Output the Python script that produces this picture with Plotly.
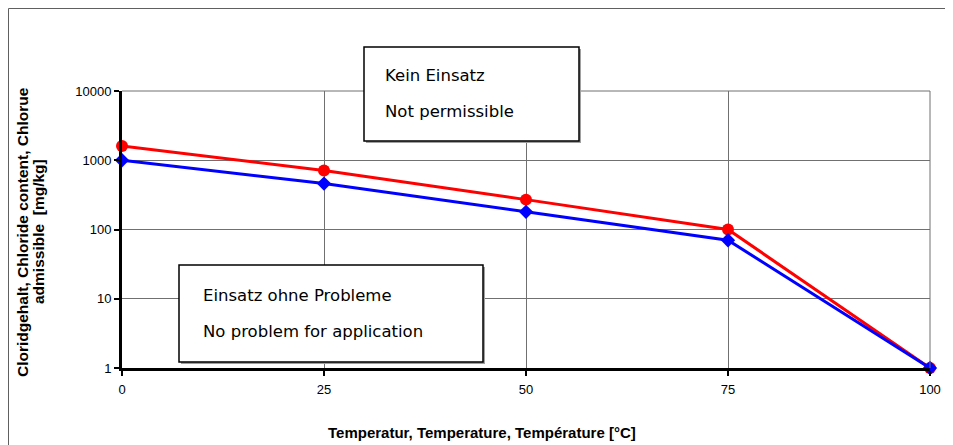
import plotly.graph_objects as go

temperature = [0, 25, 50, 75, 100]
chloride_upper = [1600, 710, 270, 100, 1]   # red
chloride_lower = [1000, 460, 180, 70, 1]    # blue

x_ticks = [0, 25, 50, 75, 100]
y_ticks = [1, 10, 100, 1000, 10000]
y_tick_text = ["1", "10", "100", "1000", "10000"]

y_title = ["Cloridgehalt, Chloride content, Chlorue", "admissible  [mg/kg]"]
x_title = "Temperatur, Temperature, Température [°C]"
box_top = ["Kein Einsatz", "Not permissible"]
box_bottom = ["Einsatz ohne Probleme", "No problem for application"]

OFF = 8  # page body margin
W, H = 953 - OFF, 445 - OFF
L, R, T, B = 122 - OFF, 23, 91 - OFF, 77
pw, ph = W - L - R, H - T - B


def px(x):
    return (x - OFF - L) / pw


def py(y):
    return (H - B - (y - OFF)) / ph


fig = go.Figure()
fig.add_trace(go.Scatter(
    x=temperature, y=chloride_upper, mode="lines+markers",
    line=dict(color="#ff0000", width=3),
    marker=dict(symbol="circle", size=12, color="#ff0000"),
    cliponaxis=False, showlegend=False))
fig.add_trace(go.Scatter(
    x=temperature, y=chloride_lower, mode="lines+markers",
    line=dict(color="#0000ff", width=3),
    marker=dict(symbol="diamond", size=11, color="#0000ff"),
    cliponaxis=False, showlegend=False))

font_tick = dict(family="Liberation Sans, Arial", size=13, color="#000")

fig.update_xaxes(range=[0, 100], tickvals=x_ticks, showgrid=True,
                 gridcolor="#707070", gridwidth=1, showline=True,
                 linecolor="#000", linewidth=3, ticks="outside", ticklen=5,
                 tickwidth=2, tickcolor="#000", tickfont=font_tick, zeroline=False,
                 ticklabelstandoff=2)
fig.update_yaxes(type="log", range=[0, 4], tickvals=y_ticks, ticktext=y_tick_text,
                 showgrid=True, gridcolor="#707070", gridwidth=1, showline=True,
                 linecolor="#000", linewidth=3, ticks="outside", ticklen=5,
                 tickwidth=2, tickcolor="#000", tickfont=font_tick, zeroline=False)

shapes = []
# outer frame (top and left)
shapes.append(dict(type="path", xref="paper", yref="paper",
                   path=f"M {px(8.5)} {py(460)} L {px(8.5)} {py(8.5)} L {px(960)} {py(8.5)}",
                   line=dict(color="#606060", width=1)))
# top / right plot borders
shapes.append(dict(type="line", xref="paper", yref="paper", x0=0, x1=1, y0=1, y1=1,
                   line=dict(color="#707070", width=1)))
shapes.append(dict(type="line", xref="paper", yref="paper", x0=1, x1=1, y0=0, y1=1,
                   line=dict(color="#707070", width=1)))
# text boxes
for (x0, y0, x1, y1) in [(364, 47, 579, 141), (179, 265, 483, 362)]:
    shapes.append(dict(type="rect", xref="paper", yref="paper",
                       x0=px(x0) + 2 / pw, x1=px(x1) + 2 / pw,
                       y0=py(y1) - 2 / ph, y1=py(y0) - 2 / ph,
                       fillcolor="#a0a0a0", line=dict(width=0), layer="above"))
    shapes.append(dict(type="rect", xref="paper", yref="paper",
                       x0=px(x0), x1=px(x1), y0=py(y1), y1=py(y0),
                       fillcolor="#ffffff", line=dict(color="#000", width=1.5),
                       layer="above"))

box_font = dict(family="DejaVu Sans", size=16.5, color="#000")
annotations = []
for text, xp, yp in [(box_top[0], 383, 75), (box_top[1], 383, 112),
                     (box_bottom[0], 201, 295), (box_bottom[1], 201, 331)]:
    annotations.append(dict(text=text, xref="paper", yref="paper", x=px(xp), y=py(yp),
                            xanchor="left", yanchor="middle", showarrow=False,
                            font=box_font))
ytitle_font = dict(family="Liberation Sans, Arial", size=15.5, color="#000")
for text, xp in [(y_title[0], 22), (y_title[1], 38)]:
    annotations.append(dict(text=f"<b>{text}</b>", xref="paper", yref="paper",
                            x=px(xp), y=py(232), textangle=-90, xanchor="center",
                            yanchor="middle", showarrow=False, font=ytitle_font))
annotations.append(dict(text=f"<b>{x_title}</b>", xref="paper", yref="paper",
                        x=px(482), y=py(432), xanchor="center", yanchor="middle",
                        showarrow=False,
                        font=dict(family="Liberation Sans, Arial", size=15, color="#000")))

fig.update_layout(width=W, height=H, margin=dict(l=L, r=R, t=T, b=B),
                  paper_bgcolor="#fff", plot_bgcolor="#fff",
                  shapes=shapes, annotations=annotations)

fig.write_html("out.html")
